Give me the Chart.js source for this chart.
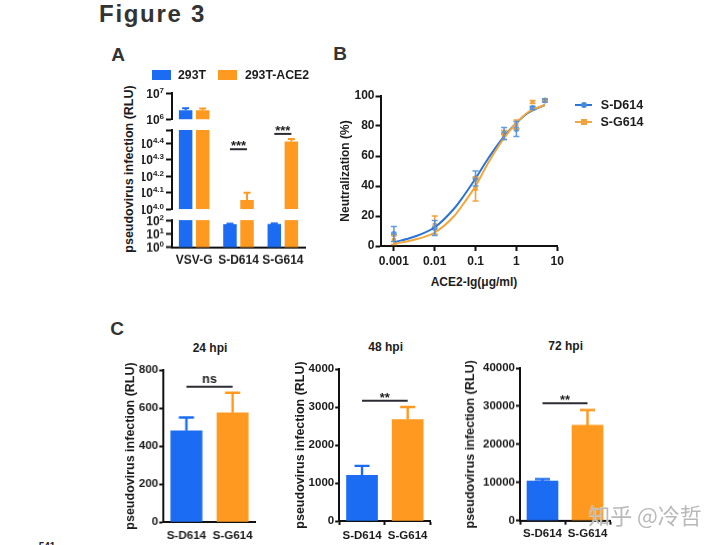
<!DOCTYPE html>
<html>
<head>
<meta charset="utf-8">
<style>
  html, body { margin: 0; padding: 0; background: #fff; width: 720px; height: 545px; overflow: hidden; }
  body { font-family: "Liberation Sans", Arial, sans-serif; font-weight: bold; color: #1c1c1c; position: relative; }
  .box { position: absolute; }
  .txt { position: absolute; white-space: nowrap; transform: translate(-50%, -50%); }
  .swatch { position: absolute; }
</style>
</head>
<body>
<script src="https://cdn.jsdelivr.net/npm/chart.js@4/dist/chart.umd.min.js"></script>
<script>
const BLUE = '#1b6cf2';
const ORANGE = '#ff991f';
const FONT = '"Liberation Sans", Arial, sans-serif';

// Panel A
const aCategories = ['VSV-G', 'S-D614', 'S-G614'];
const a293T = [2240000, 50, 52];
const a293TErr = [2650000, 54, 57];
const aACE2 = [2240000, 11400, 25700];
const aACE2Err = [2600000, 12600, 26600];
const aTopTicks = [1000000, 10000000];
const aTopExp = ['6', '7'];
const aMidTicks = [10000, 12589, 15849, 19953, 25119, 30200];
const aMidExp = ['4.0', '4.1', '4.2', '4.3', '4.4', ''];
const aLowTicks = [1, 10, 100];
const aLowExp = ['0', '1', '2'];

// Panel B
const bDoses = [0.001, 0.01, 0.1, 0.5, 1, 2.5, 5];
const bD614 = [8, 12, 45, 75, 78, 92, 97];
const bD614Err = [5, 5, 5, 4, 5, 1, 1];
const bG614 = [4, 14, 38, 74, 81, 96, 97];
const bG614Err = [3, 6, 8, 3, 3, 1, 1];
const bCurveDoses = [0.001, 0.003, 0.01, 0.03, 0.05, 0.1, 0.2, 0.5, 1, 2, 5];
const bD614Curve = [2.5, 6, 12.5, 25, 33, 45, 58, 73, 82, 89, 94];
const bG614Curve = [1.5, 4, 9, 20, 28, 40, 55, 72, 82, 89.5, 94];
const bXTicks = [0.001, 0.01, 0.1, 1, 10];

// Panel C
const cCategories = ['S-D614', 'S-G614'];
const c24 = [480, 575];
const c24Err = [550, 680];
const c48 = [1200, 2670];
const c48Err = [1450, 3000];
const c72 = [10400, 25000];
const c72Err = [10900, 29000];

function addText(text, x, y, css) {
  const el = document.createElement('div');
  el.className = 'txt';
  el.textContent = text;
  el.style.left = x + 'px';
  el.style.top = y + 'px';
  el.style.cssText += css || '';
  document.body.appendChild(el);
  return el;
}

function addSwatch(x, y, w, h, color, round) {
  const el = document.createElement('div');
  el.className = 'swatch';
  el.style.cssText += `left:${x}px;top:${y}px;width:${w}px;height:${h}px;background:${color};` + (round ? 'border-radius:50%;' : '');
  document.body.appendChild(el);
}

// error bars, read from errLow / errHigh on each dataset
const errorBars = {
  id: 'errorBars',
  afterDatasetsDraw(chart, args, opts) {
    const ctx = chart.ctx;
    const yScale = chart.scales.y;
    chart.data.datasets.forEach((ds, i) => {
      if (!ds.errHigh) return;
      chart.getDatasetMeta(i).data.forEach((el, k) => {
        const low = ds.errLow ? ds.errLow[k] : ds.data[k];
        const high = ds.errHigh[k];
        if (high > yScale.max || high < yScale.min) return;
        const lowPx = yScale.getPixelForValue(Math.max(low, yScale.min));
        const highPx = yScale.getPixelForValue(high);
        ctx.save();
        ctx.strokeStyle = el.options.backgroundColor;
        ctx.lineWidth = opts.width || 2;
        ctx.beginPath();
        ctx.moveTo(el.x, lowPx);
        ctx.lineTo(el.x, highPx);
        ctx.moveTo(el.x - opts.cap, highPx);
        ctx.lineTo(el.x + opts.cap, highPx);
        if (ds.errLow) {
          ctx.moveTo(el.x - opts.cap, lowPx);
          ctx.lineTo(el.x + opts.cap, lowPx);
        }
        ctx.stroke();
        ctx.restore();
      });
    });
  }
};

// significance brackets between two bars
const sigLines = {
  id: 'sigLines',
  afterDraw(chart, args, opts) {
    const ctx = chart.ctx;
    (opts.lines || []).forEach(line => {
      const x1 = chart.getDatasetMeta(line.from[0]).data[line.from[1]].x;
      const x2 = chart.getDatasetMeta(line.to[0]).data[line.to[1]].x;
      const y = chart.scales.y.getPixelForValue(line.value);
      ctx.save();
      ctx.strokeStyle = '#2b2b33';
      ctx.lineWidth = 2;
      ctx.beginPath();
      ctx.moveTo(x1, y);
      ctx.lineTo(x2, y);
      ctx.stroke();
      ctx.fillStyle = '#1c1c1c';
      ctx.font = `bold ${line.size}px ${FONT}`;
      ctx.textAlign = 'center';
      ctx.textBaseline = 'alphabetic';
      ctx.fillText(line.text, (x1 + x2) / 2, y - line.lift);
      ctx.restore();
    });
  }
};

// 10^n tick labels with a raised exponent
const powerTicks = {
  id: 'powerTicks',
  afterDraw(chart, args, opts) {
    if (!opts.exps) return;
    const ctx = chart.ctx;
    const s = chart.scales.y;
    s.ticks.forEach((t, i) => {
      const exp = opts.exps[i];
      if (!exp) return;
      const y = s.getPixelForValue(t.value);
      const right = s.right - 8;
      ctx.save();
      ctx.fillStyle = '#1c1c1c';
      ctx.textBaseline = 'alphabetic';
      ctx.textAlign = 'right';
      ctx.font = `bold 8px ${FONT}`;
      const w = ctx.measureText(exp).width;
      ctx.fillText(exp, right, y - 0.5);
      ctx.font = `bold 12px ${FONT}`;
      ctx.fillText('10', right - w, y + 4.5);
      ctx.restore();
    });
  }
};

Chart.register(errorBars, sigLines, powerTicks);

// puts a chart on the page so that its plot area lands on the given rectangle
function placeChart(rect, yWidth, xHeight, padTop, padRight, config) {
  const wrap = document.createElement('div');
  wrap.className = 'box';
  wrap.style.left = (rect.l - yWidth) + 'px';
  wrap.style.top = (rect.t - padTop) + 'px';
  wrap.style.width = (yWidth + rect.r - rect.l + padRight) + 'px';
  wrap.style.height = (padTop + rect.b - rect.t + xHeight) + 'px';
  const canvas = document.createElement('canvas');
  wrap.appendChild(canvas);
  document.body.appendChild(wrap);

  const hideX = config.options.scales.x.display === false;
  config.options.animation = false;
  config.options.responsive = true;
  config.options.maintainAspectRatio = false;
  config.options.layout = { padding: { top: padTop, right: padRight, left: 0, bottom: hideX ? xHeight : 0 } };
  config.options.scales.y.afterFit = s => { s.width = yWidth; };
  if (!hideX) {
    config.options.scales.x.afterFit = s => { s.height = xHeight; };
  }
  return new Chart(canvas.getContext('2d'), config);
}

function panelABars(rect, yWidth, xHeight, padTop, yMin, yMax, ticks, exps, showX, lines) {
  // a value below this segment of the broken axis has no bar in it
  const inSegment = vals => vals.map(v => (v >= yMin ? v : null));
  return placeChart(rect, yWidth, xHeight, padTop, 15, {
    type: 'bar',
    data: {
      labels: aCategories,
      datasets: [
        { data: inSegment(a293T), errHigh: a293TErr, backgroundColor: BLUE, categoryPercentage: 0.77, barPercentage: 0.79 },
        { data: inSegment(aACE2), errHigh: aACE2Err, backgroundColor: ORANGE, categoryPercentage: 0.77, barPercentage: 0.79 }
      ]
    },
    options: {
      plugins: {
        legend: { display: false },
        tooltip: { enabled: false },
        errorBars: { cap: 3.5 },
        sigLines: { lines: lines || [] },
        powerTicks: { exps }
      },
      scales: {
        x: showX ? {
          grid: { display: false, tickLength: 0 },
          border: { color: '#111', width: 2 },
          ticks: { color: '#1c1c1c', font: { family: FONT, weight: 'bold', size: 12 }, padding: 6, maxRotation: 0, autoSkip: false }
        } : { display: false },
        y: {
          type: 'logarithmic',
          min: yMin,
          max: yMax,
          afterBuildTicks: s => { s.ticks = ticks.map(v => ({ value: v })); },
          grid: { drawOnChartArea: false, color: '#111', tickWidth: 2, tickLength: 6 },
          border: { color: '#111', width: 2 },
          ticks: { display: false }
        }
      }
    }
  });
}

// Panel A: broken axis made of three stacked charts
panelABars({ l: 172, t: 92.7, r: 305, b: 119.3 }, 30, 8, 6, 1000000, 10000000, aTopTicks, aTopExp, false);
panelABars({ l: 172, t: 130, r: 305, b: 209.3 }, 30, 8, 22, 10000, 30200, aMidTicks, aMidExp, false, [
  { from: [0, 1], to: [1, 1], value: 23100, text: '***', size: 13, lift: -1 },
  { from: [0, 2], to: [1, 2], value: 28600, text: '***', size: 13, lift: -1 }
]);
panelABars({ l: 172, t: 220, r: 305, b: 246.7 }, 30, 24, 6, 1, 100, aLowTicks, aLowExp, true);

// Panel B
const bPoint = (xs, ys) => xs.map((x, i) => ({ x, y: ys[i] }));
placeChart({ l: 380, t: 96, r: 556.7, b: 246 }, 44.5, 26, 10, 30, {
  type: 'scatter',
  data: {
    datasets: [
      { data: bPoint(bCurveDoses, bG614Curve), showLine: true, borderColor: '#f4a63a', borderWidth: 2, pointRadius: 0, cubicInterpolationMode: 'monotone' },
      { data: bPoint(bCurveDoses, bD614Curve), showLine: true, borderColor: '#2a74d8', borderWidth: 2, pointRadius: 0, cubicInterpolationMode: 'monotone' },
      {
        data: bPoint(bDoses, bG614),
        errLow: bG614.map((v, i) => v - bG614Err[i]),
        errHigh: bG614.map((v, i) => v + bG614Err[i]),
        backgroundColor: '#f2a23c',
        pointStyle: 'rect',
        pointRadius: 3,
        borderWidth: 0
      },
      {
        data: bPoint(bDoses, bD614),
        errLow: bD614.map((v, i) => v - bD614Err[i]),
        errHigh: bD614.map((v, i) => v + bD614Err[i]),
        backgroundColor: 'rgba(70, 140, 220, 0.85)',
        pointRadius: 3,
        borderWidth: 0
      }
    ]
  },
  options: {
    plugins: {
      legend: { display: false },
      tooltip: { enabled: false },
      errorBars: { cap: 3, width: 1.6 }
    },
    scales: {
      x: {
        type: 'logarithmic',
        min: 0.00047,
        max: 10,
        afterBuildTicks: s => { s.ticks = bXTicks.map(v => ({ value: v })); },
        grid: { drawOnChartArea: false, color: '#111', tickWidth: 2, tickLength: 5 },
        border: { color: '#111', width: 2 },
        ticks: {
          color: '#1c1c1c',
          font: { family: FONT, weight: 'bold', size: 12 },
          padding: 3.5,
          maxRotation: 0,
          autoSkip: false,
          callback: v => String(v)
        }
      },
      y: {
        min: 0,
        max: 100,
        grid: { drawOnChartArea: false, color: '#111', tickWidth: 2, tickLength: 5 },
        border: { color: '#111', width: 2 },
        ticks: { stepSize: 20, color: '#1c1c1c', font: { family: FONT, weight: 'bold', size: 12 }, padding: 1 },
        title: { display: true, text: 'Neutralization (%)', color: '#1c1c1c', font: { family: FONT, weight: 'bold', size: 12 }, padding: { top: 2, bottom: 0 } }
      }
    }
  }
});

// Panel C
function panelC(rect, yWidth, values, errs, yMax, step, sig, xTicks, labelPad) {
  return placeChart(rect, yWidth, 24, 10, 8, {
    type: 'bar',
    data: {
      labels: cCategories,
      datasets: [{ data: values, errHigh: errs, backgroundColor: [BLUE, ORANGE], barThickness: 31 }]
    },
    options: {
      plugins: {
        legend: { display: false },
        tooltip: { enabled: false },
        errorBars: { cap: 7.5, width: 2.4 },
        sigLines: { lines: [sig] }
      },
      scales: {
        x: {
          grid: { display: xTicks, drawOnChartArea: false, color: '#111', tickWidth: 2, tickLength: 4 },
          border: { color: '#111', width: 2 },
          ticks: { color: '#1c1c1c', font: { family: FONT, weight: 'bold', size: 11.5 }, padding: labelPad, maxRotation: 0, autoSkip: false }
        },
        y: {
          min: 0,
          max: yMax,
          grid: { drawOnChartArea: false, color: '#111', tickWidth: 2, tickLength: 4 },
          border: { color: '#111', width: 2 },
          ticks: { stepSize: step, color: '#1c1c1c', font: { family: FONT, weight: 'bold', size: 11.5 }, padding: 1, callback: v => String(v) },
          title: { display: true, text: 'pseudovirus infection (RLU)', color: '#1c1c1c', font: { family: FONT, weight: 'bold', size: 12.5 }, padding: { top: 2, bottom: 0 } }
        }
      }
    }
  });
}

panelC({ l: 163.3, t: 370, r: 255, b: 522 }, 42, c24, c24Err, 800, 200,
  { from: [0, 0], to: [0, 1], value: 712, text: 'ns', size: 12.5, lift: 4 }, false, 3);
panelC({ l: 338.7, t: 369.3, r: 430, b: 521.3 }, 48.2, c48, c48Err, 4000, 1000,
  { from: [0, 0], to: [0, 1], value: 3166, text: '**', size: 13, lift: -1 }, true, 3.7);
panelC({ l: 520, t: 368.3, r: 610, b: 520 }, 59, c72, c72Err, 40000, 10000,
  { from: [0, 0], to: [0, 1], value: 30770, text: '**', size: 13, lift: -1 }, true, 2.7);

// Page text and legends
addText('Figure 3', 152.5, 14, 'font-size:24px;letter-spacing:1.7px;color:#333;');
addText('A', 118, 55, 'font-size:19px;color:#333;');
addText('B', 340, 54, 'font-size:19px;color:#333;');
addText('C', 117, 329, 'font-size:19px;color:#333;');
addText('pseudovirus infection (RLU)', 129, 168.5, 'font-size:12.5px;transform:translate(-50%,-50%) rotate(-90deg);');
addText('ACE2-Ig(μg/ml)', 474, 282, 'font-size:12px;');
addText('24 hpi', 210, 348, 'font-size:12px;');
addText('48 hpi', 385.7, 347, 'font-size:12px;');
addText('72 hpi', 565.7, 345.7, 'font-size:12px;');

addSwatch(151.7, 70, 19, 9.5, BLUE);
addText('293T', 192, 74.7, 'font-size:12.3px;');
addSwatch(217.7, 70, 19, 9.5, ORANGE);
addText('293T-ACE2', 277, 74.7, 'font-size:12.3px;');

addSwatch(575, 104, 17, 2, '#2a74d8');
addSwatch(580.5, 102, 6, 6, '#468cdc', true);
addText('S-D614', 622, 105, 'font-size:12.5px;');
addSwatch(575, 121, 17, 2, '#f4a63a');
addSwatch(580.5, 119, 6, 6, '#f2a23c');
addText('S-G614', 622, 122, 'font-size:12.5px;');

addText('知乎 @冷哲', 645, 514, 'font-family:"Noto Sans CJK SC";font-weight:400;font-size:22px;color:#b9b9b9;text-shadow:0 0 1px #fff;');
addText('541', 47, 546, 'font-size:10px;color:#222;');
</script>
</body>
</html>
